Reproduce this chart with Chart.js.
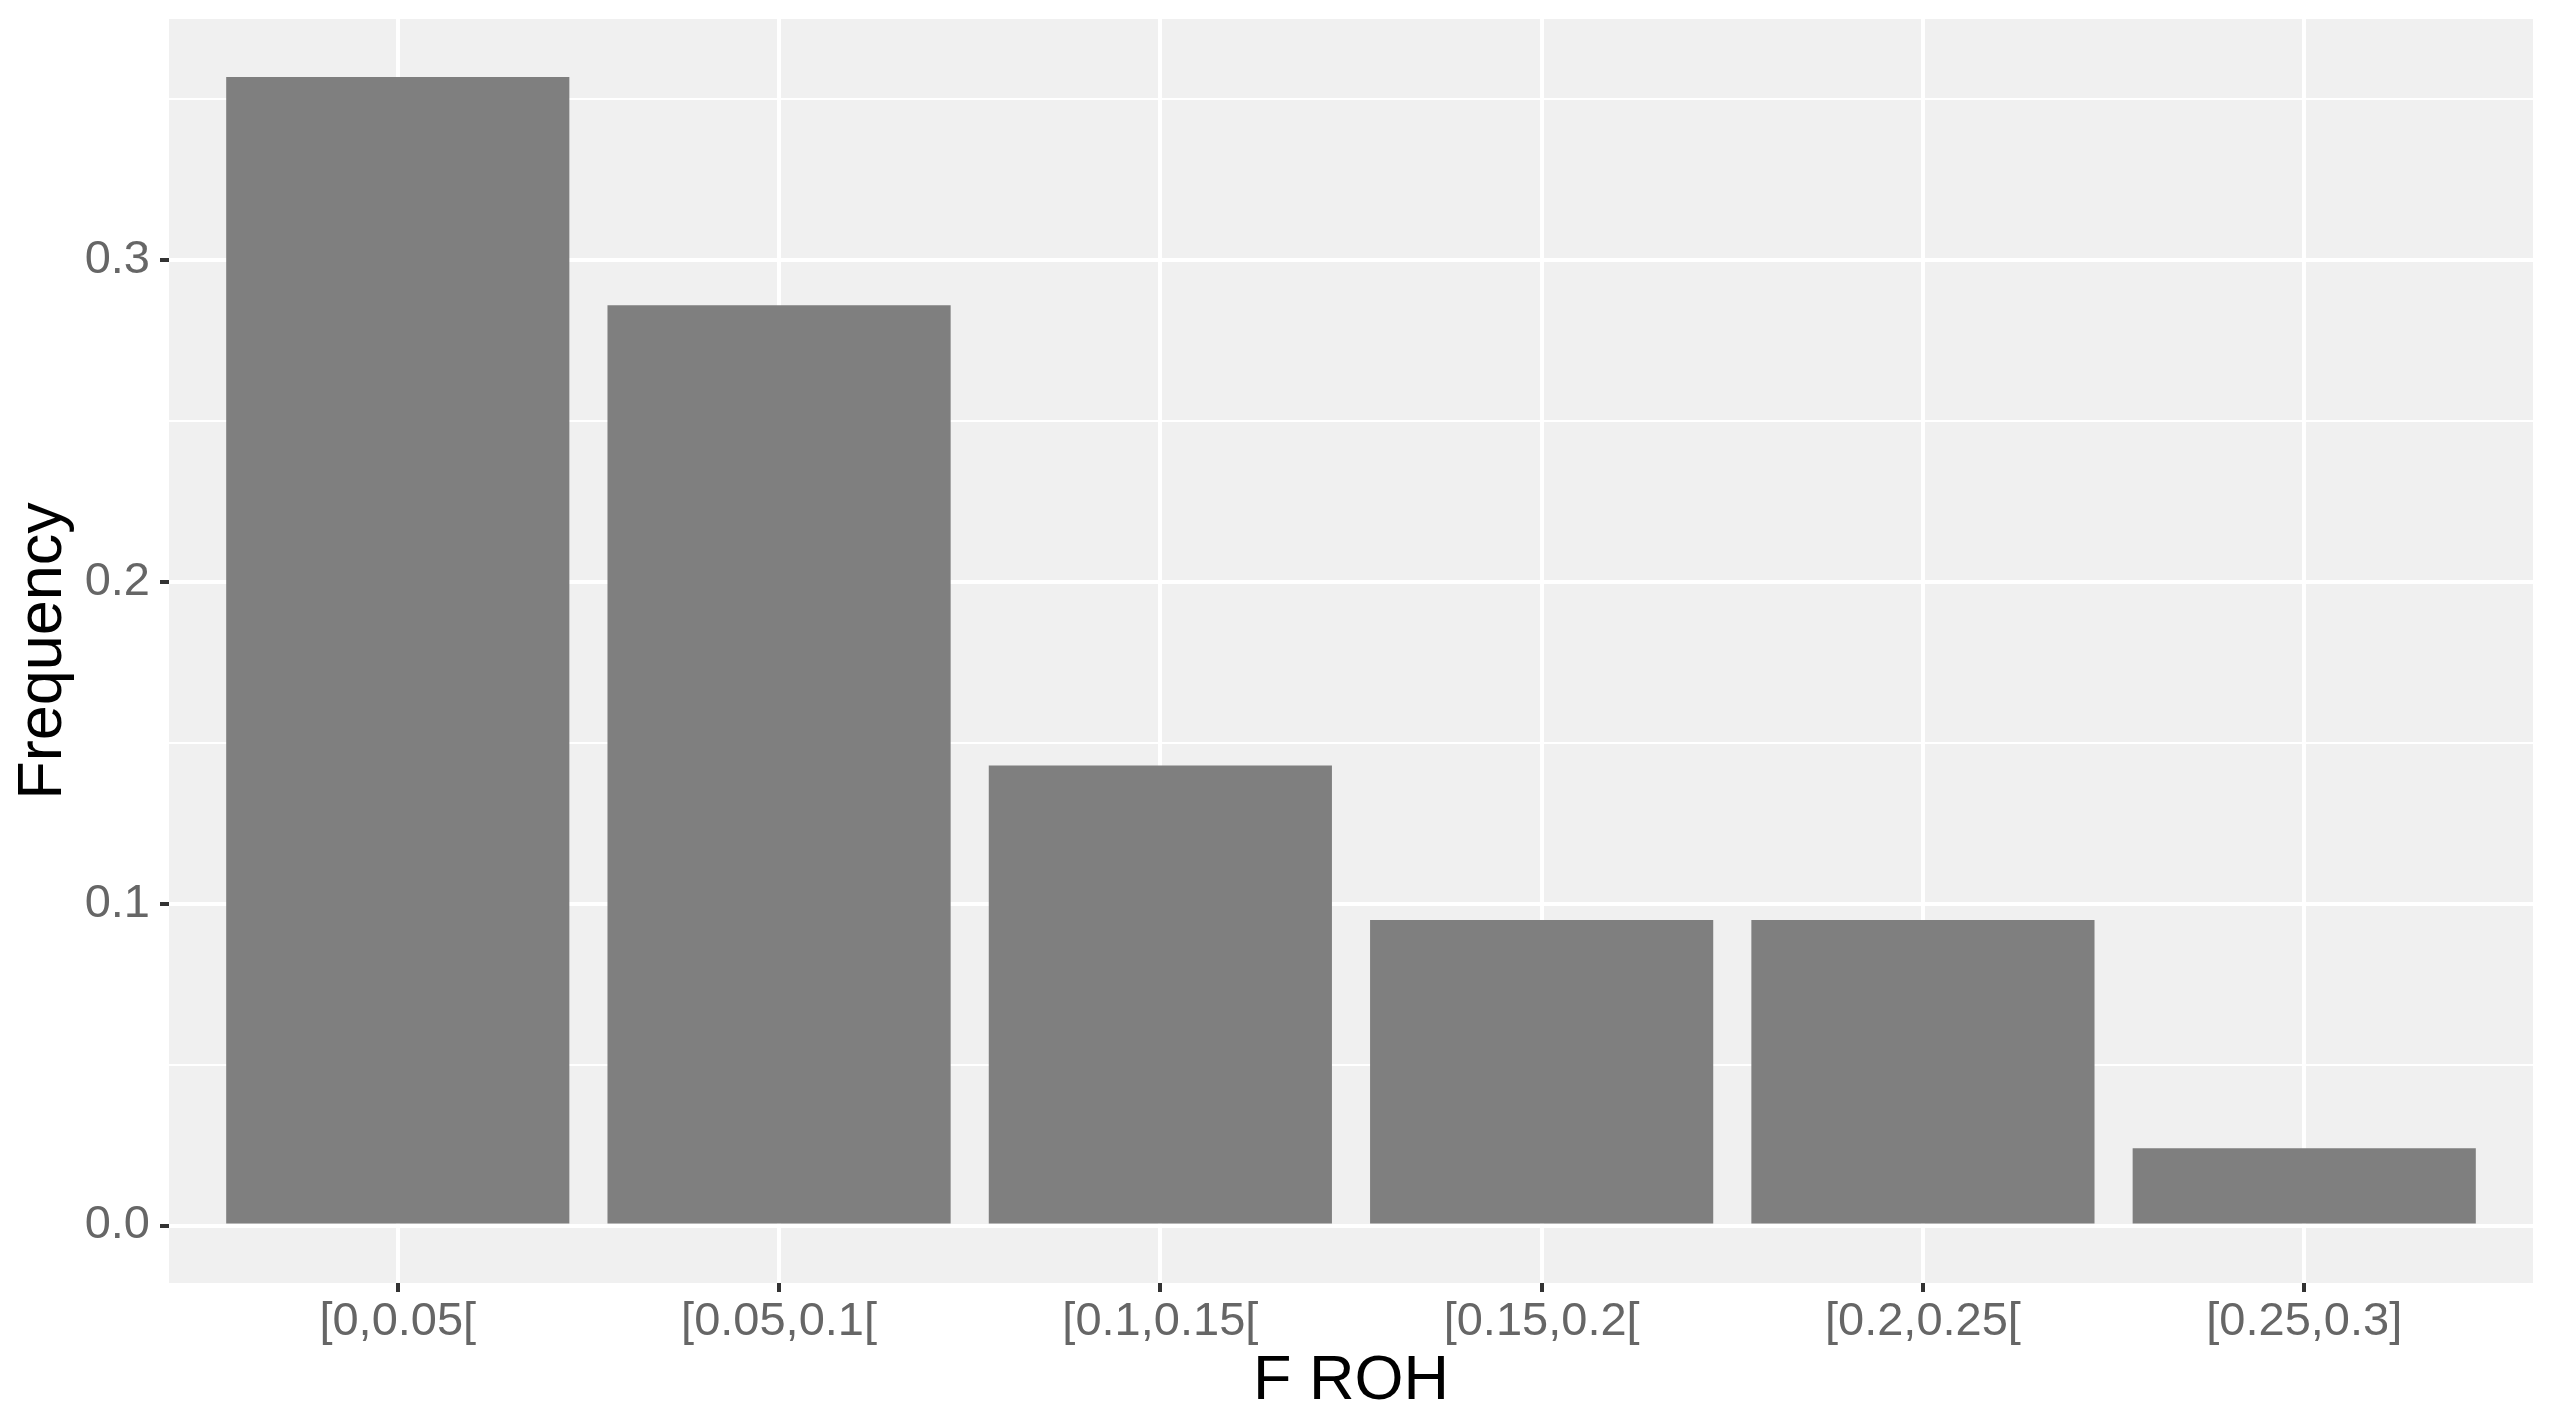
<!DOCTYPE html>
<html>
<head>
<meta charset="utf-8">
<script src="https://cdn.jsdelivr.net/npm/chart.js@4"></script>
<style>
  body { margin: 0; background: #fff; }
  canvas { display: block; }
</style>
</head>
<body>
<canvas id="barChart" width="2557" height="1426"></canvas>
<script>
// F ROH bins and their frequency
var categories = ['[0,0.05[', '[0.05,0.1[', '[0.1,0.15[', '[0.15,0.2[', '[0.2,0.25[', '[0.25,0.3]'];
var frequency = [0.357, 0.286, 0.143, 0.095, 0.095, 0.024];
var yTicks = [0, 0.05, 0.1, 0.15, 0.2, 0.25, 0.3, 0.35];
var yMajor = [0, 0.1, 0.2, 0.3];

var fontName = "'Liberation Sans', Arial, sans-serif";

// grey panel behind the plot area (ggplot style)
var panelBg = {
    id: 'panelBg',
    beforeDraw: function (chart) {
        var a = chart.chartArea;
        var c = chart.ctx;
        c.save();
        c.fillStyle = '#F0F0F0';
        c.fillRect(a.left, a.top, a.right - a.left, a.bottom - a.top);
        c.restore();
    }
};

function isMajor(v) {
    return yMajor.some(function (m) { return Math.abs(m - v) < 1e-9; });
}

new Chart(document.getElementById('barChart'), {
    type: 'bar',
    data: {
        datasets: [{
            data: categories.map(function (c, i) { return { x: i, y: frequency[i] }; }),
            backgroundColor: '#7F7F7F',
            borderWidth: 0,
            barPercentage: 0.9,
            categoryPercentage: 1.0
        }]
    },
    options: {
        responsive: false,
        animation: false,
        layout: { padding: { left: 0, right: 24, top: 19, bottom: 0 } },
        plugins: {
            legend: { display: false },
            title: { display: false },
            tooltip: { enabled: false }
        },
        scales: {
            x: {
                type: 'linear',
                min: -0.6,
                max: 5.6,
                offset: false,
                afterBuildTicks: function (axis) {
                    axis.ticks = categories.map(function (c, i) { return { value: i }; });
                },
                afterFit: function (axis) {
                    axis.height = 143;
                    axis.paddingLeft = 0;
                    axis.paddingRight = 0;
                },
                grid: {
                    offset: false,
                    color: '#FFFFFF',
                    lineWidth: 4,
                    tickColor: '#333333',
                    tickWidth: 4,
                    tickLength: 9
                },
                border: { display: false },
                ticks: {
                    autoSkip: false,
                    maxRotation: 0,
                    padding: 2,
                    color: '#666666',
                    font: { family: fontName, size: 47 },
                    callback: function (v) { return categories[v]; }
                },
                title: {
                    display: true,
                    text: 'F ROH',
                    color: '#000000',
                    font: { family: fontName, size: 63 },
                    padding: { top: 0, bottom: 7 }
                }
            },
            y: {
                min: -0.017857,
                max: 0.375,
                afterBuildTicks: function (axis) {
                    axis.ticks = yTicks.map(function (v) { return { value: v }; });
                },
                afterFit: function (axis) {
                    axis.width = 169;
                    axis.paddingTop = 0;
                    axis.paddingBottom = 0;
                },
                grid: {
                    color: '#FFFFFF',
                    lineWidth: function (ctx) { return isMajor(ctx.tick.value) ? 4 : 2; },
                    tickColor: function (ctx) { return isMajor(ctx.tick.value) ? '#333333' : 'rgba(0,0,0,0)'; },
                    tickWidth: 4,
                    tickLength: 9
                },
                border: { display: false },
                ticks: {
                    autoSkip: false,
                    padding: 10,
                    color: '#666666',
                    font: { family: fontName, size: 47 },
                    callback: function (v) { return isMajor(v) ? v.toFixed(1) : ''; }
                },
                title: {
                    display: true,
                    text: 'Frequency',
                    color: '#000000',
                    font: { family: fontName, size: 63 },
                    padding: { top: 6, bottom: 0 }
                }
            }
        }
    },
    plugins: [panelBg]
});
</script>
</body>
</html>
